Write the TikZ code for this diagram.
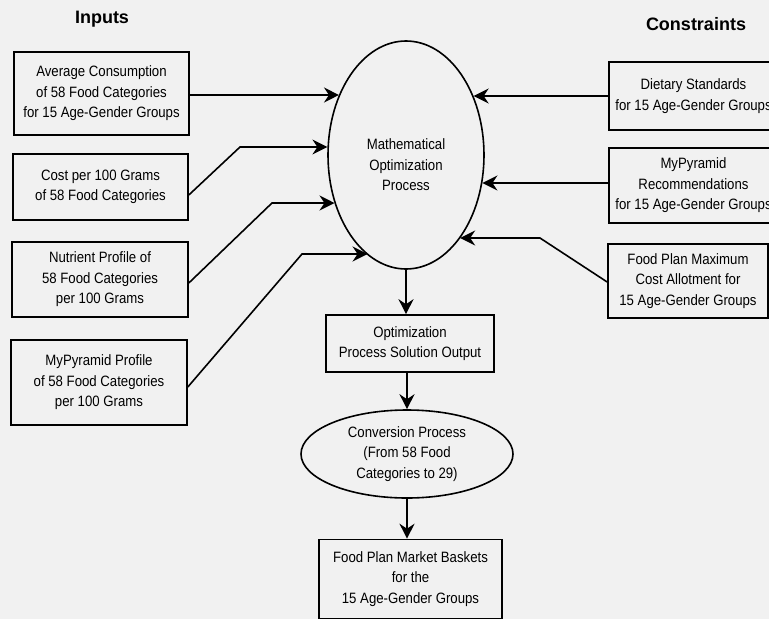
\documentclass[tikz,border=0pt]{standalone}
\usepackage{fontspec}
\setmainfont{Liberation Sans}[FakeStretch=0.88]
\newfontfamily\titlefont{Liberation Sans}
\usetikzlibrary{shapes.geometric,arrows.meta}
\definecolor{bg}{RGB}{241,241,241}
\begin{document}
\begin{tikzpicture}[x=1pt,y=-1pt,
  txt/.style={align=center, inner sep=0pt, font=\fontsize{15}{20.5}\selectfont},
  box/.style={txt, draw, line width=1.6pt},
  ell/.style={txt, draw, ellipse, line width=1.6pt},
  ttl/.style={font=\titlefont\bfseries\fontsize{18}{22}\selectfont, inner sep=0pt},
  arr/.style={line width=1.6pt, -{Stealth[length=15pt,width=15pt,inset=5pt]}}]
\fill[bg] (0,0) rectangle (769,619);
\useasboundingbox (0,0) rectangle (769,619);

\node[ttl] (tin) at (102,19) {Inputs};
\node[ttl] (tcon) at (696,24) {Constraints};

\node[box, minimum width=175pt, minimum height=83pt] (in1) at (101.5,93.5)
  {Average Consumption\\of 58 Food Categories\\for 15 Age-Gender Groups};
\node[box, minimum width=175pt, minimum height=66pt] (in2) at (100.5,187)
  {Cost per 100 Grams\\of 58 Food Categories};
\node[box, minimum width=176pt, minimum height=75pt] (in3) at (100,279.5)
  {Nutrient Profile of\\58 Food Categories\\per 100 Grams};
\node[box, minimum width=176pt, minimum height=85pt] (in4) at (99,382.5)
  {MyPyramid Profile\\of 58 Food Categories\\per 100 Grams};

\node[box, minimum width=169pt, minimum height=68pt] (r1) at (693.5,96)
  {Dietary Standards\\for 15 Age-Gender Groups};
\node[box, minimum width=169pt, minimum height=75pt] (r2) at (693.5,185.5)
  {MyPyramid\\Recommendations\\for 15 Age-Gender Groups};
\node[box, minimum width=160pt, minimum height=74pt] (r3) at (688,281)
  {Food Plan Maximum\\Cost Allotment for\\15 Age-Gender Groups};

\node[draw, ellipse, line width=1.6pt, minimum width=156pt, minimum height=228pt, inner sep=0pt] (opt) at (406,155) {};
\node[txt] (optt) at (406,165) {Mathematical\\Optimization\\Process};

\node[box, minimum width=168pt, minimum height=57pt] (out) at (410,343.5)
  {Optimization\\Process Solution Output};
\node[ell, minimum width=212pt, minimum height=88pt] (conv) at (407,454)
  {Conversion Process\\(From 58 Food\\Categories to 29)};
\node[box, minimum width=183pt, minimum height=79pt] (fin) at (410.5,579)
  {Food Plan Market Baskets\\for the\\15 Age-Gender Groups};

% inputs
\draw[arr] ([yshift=-1.5pt]in1.east) -- ([yshift=-1.5pt]in1.east -| opt.138);
\draw[arr] ([yshift=-8pt]in2.east) -- (240,147) coordinate (b2) -- (b2 -| opt.174);
\draw[arr] ([yshift=-3.5pt]in3.east) -- (272,203) coordinate (b3) -- (b3 -| opt.214);
\draw[arr] ([yshift=-4.5pt]in4.east) -- (302,254) coordinate (b4) -- (b4 -| opt.249);

% constraints
\draw[arr] (r1.west) -- (r1.west -| opt.41);
\draw[arr] ([yshift=2.5pt]r2.west) -- ([yshift=2.5pt]r2.west -| opt.340);
\draw[arr] ([yshift=-1pt]r3.west) -- (540,238) coordinate (b5) -- (b5 -| opt.303);

% process chain
\draw[arr] (opt.south) -- (opt.south |- out.north);
\draw[arr] (out.south -| conv.north) -- (conv.north);
\draw[arr] (conv.south) -- (conv.south |- fin.north);
\end{tikzpicture}
\end{document}
